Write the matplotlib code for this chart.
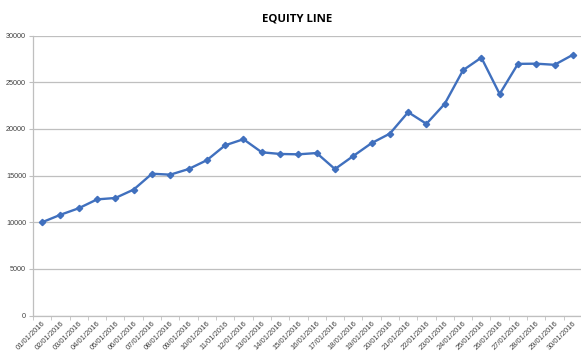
import matplotlib.pyplot as plt
from matplotlib.ticker import FixedLocator, NullFormatter

# dates on the category axis
dates = ['%02d/01/2016' % d for d in range(1, 31)]

# equity value per day
equity = [10000, 10800, 11500, 12450, 12600, 13500, 15200, 15100, 15700, 16650,
          18250, 18900, 17500, 17320, 17280, 17420, 15700, 17100, 18480, 19500,
          21800, 20550, 22700, 26300, 27650, 23750, 26980, 27000, 26880, 27950]

yticks = [0, 5000, 10000, 15000, 20000, 25000, 30000]

fig = plt.figure(figsize=(5.81, 3.51), dpi=100)
ax = fig.add_axes([33 / 581, 1 - 315.5 / 351, 549 / 581, (315.5 - 35.7) / 351])

x = list(range(1, len(dates) + 1))
ax.plot(x, equity, color='#4070BE', linewidth=1.7, marker='D', markersize=3.2,
        markerfacecolor='#4070BE', markeredgecolor='#4070BE')

ax.set_xlim(0.5, len(dates) + 0.5)
ax.set_ylim(0, 30000)
ax.set_yticks(yticks)
ax.set_yticklabels([str(v) for v in yticks], fontsize=5.2, color='#404040',
                   family='Liberation Sans')
ax.grid(axis='y', color='#BFBFBF', linewidth=0.9)
ax.set_axisbelow(True)

# category labels at points, tick marks between categories
ax.set_xticks(x)
ax.set_xticklabels(dates, rotation=45, ha='right', rotation_mode='anchor',
                   fontsize=5.4, color='#404040', family='Liberation Sans')
ax.tick_params(axis='x', which='major', length=0, pad=3)
ax.xaxis.set_minor_locator(FixedLocator([i + 0.5 for i in range(0, len(dates) + 1)]))
ax.xaxis.set_minor_formatter(NullFormatter())
ax.tick_params(axis='x', which='minor', length=3, color='#BFBFBF')
ax.tick_params(axis='y', length=3, color='#BFBFBF', pad=2)

for side in ['top', 'right']:
    ax.spines[side].set_visible(False)
for side in ['left', 'bottom']:
    ax.spines[side].set_color('#BFBFBF')
    ax.spines[side].set_linewidth(0.9)

fig.text(297 / 581, 1 - 19 / 351, 'EQUITY LINE', ha='center', va='center',
         fontsize=8.2, fontweight='bold', color='#000000', family='Open Sans')

fig.savefig('out.png', dpi=100)
